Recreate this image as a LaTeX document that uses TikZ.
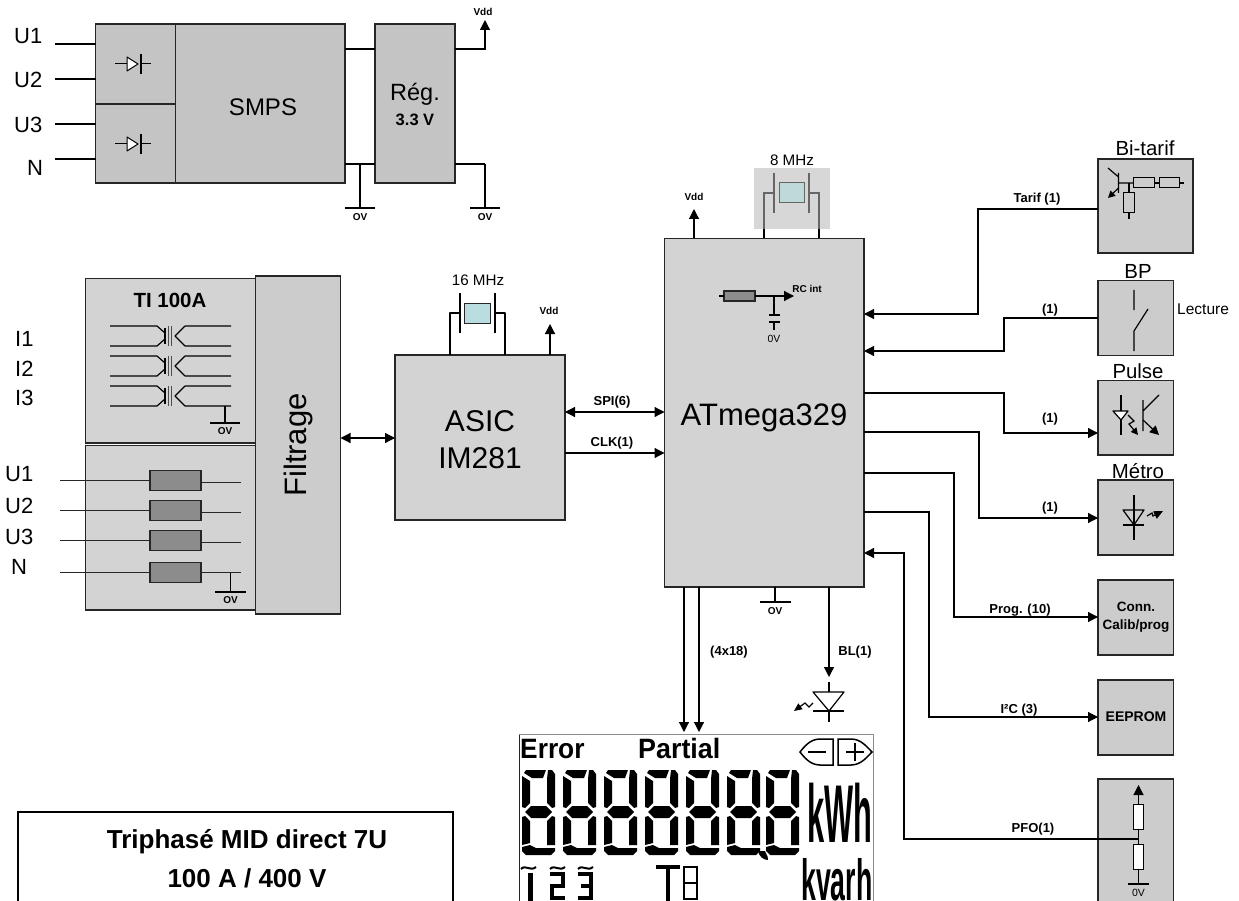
\documentclass[tikz,border=0pt]{standalone}
\usepackage{fontspec}
\usepackage{graphicx}
\setmainfont{Liberation Sans}
\usetikzlibrary{arrows.meta}
\definecolor{gA}{HTML}{C4C4C4}
\definecolor{gB}{HTML}{D3D3D3}
\definecolor{gC}{HTML}{CCCCCC}
\definecolor{gR}{HTML}{8C8C8C}
\definecolor{xA}{HTML}{B9DDE0}
\definecolor{xB}{HTML}{BFD8D8}
\tikzset{
  fs/.style={font=\fontsize{#1}{#1}\selectfont,inner sep=0pt},
  fsb/.style={font=\fontsize{#1}{#1}\selectfont\bfseries,inner sep=0pt},
  box/.style={draw=black!85,line width=1.2pt,inner sep=0pt,outer sep=0pt,align=center},
  wire/.style={line width=1.2pt,draw=black},
  thinw/.style={line width=1pt,draw=black!85},
  arr/.style={wire,-{Triangle[length=10pt,width=10pt]}},
  darr/.style={wire,{Triangle[length=10pt,width=10pt]}-{Triangle[length=10pt,width=10pt]}},
  sym/.style={line width=1.2pt,draw=black,line join=round},
  smallhead/.style={line width=1.2pt,draw=black,-{Triangle[length=7pt,width=7pt]}},
  seg/.style={fill=black,draw=none},
  lcdl/.style={line width=4pt,draw=black,line cap=butt,line join=miter},
  tilde/.style={line width=2pt,draw=black}
}
\newcommand{\bx}[6][]{\node[box,#1,minimum width={(#4-#2)*1pt},minimum height={(#5-#3)*1pt}] (#6) at ({(#2+#4)/2},{(#3+#5)/2}) {};}
% ground: name, x, ytop, ybar, half width, label y
\newcommand{\gnd}[6]{\coordinate (#1t) at (#2,#3);\coordinate (#1b) at (#2,#4);
  \draw[wire] (#1t) -- (#1b);
  \draw[wire] (#2-#5,#4) -- (#2+#5,#4);
  \node[fsb=10] (#1l) at (#2,#6) {OV};}
% diode rectifier symbol
\newcommand{\rect}[3]{\coordinate (#1) at (#2,#3);
  \draw[sym,line width=1pt] (#2-18,#3) -- (#2-6,#3);
  \draw[sym,line width=1pt,fill=white] (#2-6,#3-7) -- (#2+5,#3) -- (#2-6,#3+7) -- cycle;
  \draw[sym,line width=1.2pt] (#2+8,#3-10) -- (#2+8,#3+10);
  \draw[sym,line width=1pt] (#2+8,#3) -- (#2+18,#3);}
% one transformer row, y of upper line
\newcommand{\trafo}[1]{
  \draw[sym] (110,#1) -- (157,#1) -- (165,#1+7) (165,#1+13) -- (157,#1+20) -- (110,#1+20);
  \draw[sym] (165,#1+2) -- (165,#1+18);
  \draw[line width=.8pt,draw=black!70] (168,#1) -- (168,#1+20) (171,#1) -- (171,#1+20);
  \draw[sym] (185,#1-0) -- (231,#1) (185,#1) -- (175,#1+10) -- (185,#1+20) -- (231,#1+20);}
% crystal
\newcommand{\xtal}[8]{% x1 wire, x plate l, rect l, rect r, plate r, x2 wire, ycentre, halfrect
}
% LCD digit at x,y
\newcommand{\digit}[2]{\begin{scope}[shift={(#1,#2)}]
  \fill[seg] (4,0) -- (24,0) -- (21,8) -- (10,8) -- (2,3) -- cycle;
  \fill[seg] (0,6) -- (8,11) -- (8,33) -- (3,38) -- (0,37) -- cycle;
  \fill[seg] (26,0) -- (30,0) -- (33,4) -- (33,37) -- (30,38) -- (25,33) -- (25,9) -- cycle;
  \fill[seg] (3,42) -- (9,36) -- (24,36) -- (30,42) -- (24,48) -- (9,48) -- cycle;
  \fill[seg] (0,47) -- (3,46) -- (8,51) -- (8,73) -- (0,75) -- cycle;
  \fill[seg] (33,47) -- (30,46) -- (25,51) -- (25,75) -- (33,75) -- cycle;
  \fill[seg] (0,77) -- (8,75) -- (14,78) -- (33,78) -- (33,81) -- (29,85) -- (4,85) -- (0,81) -- cycle;
\end{scope}}
\newcommand{\tld}[2]{\draw[tilde] (#1,#2+2) .. controls (#1+5,#2-3) and (#1+9,#2+5) .. (#1+15,#2);}
\begin{document}
\begin{tikzpicture}[x=1pt,y=-1pt]
\useasboundingbox[fill=white] (0,0) rectangle (1239,901);

% ---------- supply group
\bx[fill=gA]{95.5}{24}{175.5}{104}{dA}
\bx[fill=gA]{95.5}{104}{175.5}{183}{dB}
\bx[fill=gA]{175.5}{24}{345}{183}{smps}
\bx[fill=gA]{375}{24}{455}{183}{reg}
\node[fs=24] (smpsl) at (263,107) {SMPS};
\node[fs=23.5] (regl) at (415,94) {Rég.};
\node[fsb=16.5] (regv) at (415,120) {3.3 V};
\rect{rA}{133}{64}
\rect{rB}{133}{144}
\node[fs=22,anchor=base west] (su1) at (14,44) {U1};
\node[fs=22,anchor=base west] (su2) at (14,88) {U2};
\node[fs=22,anchor=base west] (su3) at (14,133) {U3};
\node[fs=22,anchor=base west] (sn) at (27,176) {N};
\coordinate (wu1) at (55,44);\coordinate (wu2) at (55,79);\coordinate (wu3) at (55,124);\coordinate (wn) at (55,159);
\draw[wire] (wu1) -- (dA.west |- wu1);
\draw[wire] (wu2) -- (dA.west |- wu2);
\draw[wire] (wu3) -- (dB.west |- wu3);
\draw[wire] (wn) -- (dB.west |- wn);
\draw[wire] (smps.east |- 0,49) -- (reg.west |- 0,49);
\draw[wire] (smps.east |- 0,164) -- (reg.west |- 0,164);
\gnd{g1}{360}{164}{208}{15}{217}
\coordinate (vdd1) at (485,20);
\draw[arr] (reg.east |- 0,49) -- (485,49) -- (vdd1);
\node[fsb=10] (vdd1l) at (483,12) {Vdd};
\draw[wire] (reg.east |- 0,164) -- (485,164);
\gnd{g2}{485}{164}{208}{15}{217}

% ---------- measure group
\bx[fill=gB]{85.5}{278.5}{255.5}{443}{ti}
\bx[fill=gB]{85.5}{445.5}{255.5}{610}{ub}
\bx[fill=gC]{255.5}{276}{340.5}{614}{filt}
\node[fs=31,rotate=90] (filtl) at (298,445) {Filtrage};
\node[fsb=20.5] (til) at (170,300) {TI 100A};
\trafo{326}\trafo{356}\trafo{386}
\gnd{g3}{225}{406}{423}{15}{431}
\node[fs=22,anchor=base west] (i1) at (15,346) {I1};
\node[fs=22,anchor=base west] (i2) at (15,376) {I2};
\node[fs=22,anchor=base west] (i3) at (15,405) {I3};
\node[fs=22,anchor=base west] (mu1) at (5,481) {U1};
\node[fs=22,anchor=base west] (mu2) at (5,513) {U2};
\node[fs=22,anchor=base west] (mu3) at (5,544) {U3};
\node[fs=22,anchor=base west] (mn) at (11,574) {N};
\bx[fill=gR]{150}{470.5}{201}{490.5}{r1}
\bx[fill=gR]{150}{500.5}{201}{520.5}{r2}
\bx[fill=gR]{150}{530.5}{201}{550.5}{r3}
\bx[fill=gR]{150}{562.5}{201}{582.5}{r4}
\coordinate (a1) at (60,480);\coordinate (a2) at (60,510);\coordinate (a3) at (60,540);\coordinate (a4) at (60,572.5);
\coordinate (b1) at (241,482.5);\coordinate (b2) at (241,512.5);\coordinate (b3) at (241,542.5);\coordinate (b4) at (241,572.5);
\draw[thinw] (a1) -- (r1.west |- a1) (r1.east |- b1) -- (b1);
\draw[thinw] (a2) -- (r2.west |- a2) (r2.east |- b2) -- (b2);
\draw[thinw] (a3) -- (r3.west |- a3) (r3.east |- b3) -- (b3);
\draw[thinw] (a4) -- (r4.west |- a4) (r4.east |- b4) -- (b4);
\gnd{g4}{230.5}{572.5}{592}{15.5}{600}

% ---------- ASIC
\bx[fill=gB]{395}{355}{565}{520}{asic}
\node[fs=30] (asicl) at (480,421) {ASIC};
\node[fs=30] (imb) at (480,458) {IM281};
\draw[darr] (filt.east |- 0,438) -- (asic.west |- 0,438);
\node[fs=15.2] (x16) at (478,280) {16 MHz};
\node[box,fill=xA,minimum width=26pt,minimum height=20pt,line width=1pt] (xt16) at (477,313) {};
\draw[sym] (460,293) -- (460,333) (495,293) -- (495,333);
\draw[sym] (asic.north -| 450,0) -- (450,313) -- (460,313);
\draw[sym] (asic.north -| 505,0) -- (505,313) -- (495,313);
\draw[arr] (asic.north -| 550,0) -- (550,324);
\node[fsb=10] (vdd2) at (549,311) {Vdd};

% ---------- ATmega
\bx[fill=gB]{664.5}{238.5}{864}{587}{atm}
\node[fs=31] (atml) at (764,418) {ATmega329};
\draw[darr] (asic.east |- 0,412) -- (atm.west |- 0,412);
\draw[arr] (asic.east |- 0,453) -- (atm.west |- 0,453);
\node[fsb=13] (spi) at (612,402) {SPI(6)};
\node[fsb=13] (clk) at (612,443) {CLK(1)};
\draw[arr] (atm.north -| 694,0) -- (694,209);
\node[fsb=10] (vdd3) at (694,197) {Vdd};
\node[fill=gB!90!white,minimum width=76pt,minimum height=61pt,inner sep=0pt] (xbg) at (792,198.5) {};
\node[fs=15.2] (x8) at (792,160) {8 MHz};
\node[draw=black!60,line width=1pt,fill=xB,minimum width=25pt,minimum height=20pt,inner sep=0pt] (xt8) at (791.5,193) {};
\draw[line width=1.2pt,draw=black!60] (774,173) -- (774,213) (809,173) -- (809,213);
\draw[line width=1.2pt,draw=black!60] (764,229) -- (764,193) -- (774,193) (819,229) -- (819,193) -- (809,193);
\draw[wire] (atm.north -| 764,0) -- (764,229);
\draw[wire] (atm.north -| 819,0) -- (819,229);
% RC int
\bx[fill=gR]{724}{291}{755}{301}{rc}
\coordinate (rcin) at (719,296);\coordinate (rcout) at (794,296);\coordinate (rcj) at (774,296);
\draw[wire] (rcin) -- (rc.west);
\draw[arr] (rc.east) -- (rcout);
\draw[wire] (rcj) -- (774,315) (769,315) -- (780,315) (769,322) -- (780,322) (774,322) -- (774,330);
\node[fs=10.4] (rc0) at (774,339) {0V};
\node[fsb=10] (rcl) at (807,289) {RC int};

% ---------- right boxes
\bx[fill=gC]{1098}{159}{1193}{253}{bi}
\bx[fill=gC]{1098}{280.5}{1173.5}{355.5}{bp}
\bx[fill=gC]{1098}{380.5}{1173.5}{455}{pu}
\bx[fill=gC]{1098}{480}{1173.5}{555}{me}
\bx[fill=gC]{1098}{580}{1173.5}{655}{co}
\bx[fill=gC]{1098}{680}{1173.5}{755}{ee}
\bx[fill=gC]{1098}{779}{1173.5}{905}{po}
\node[fs=20.4] (bil) at (1145,148) {Bi-tarif};
\node[fs=20.4] (bpl) at (1138,271) {BP};
\node[fs=20.4] (pul) at (1138,371) {Pulse};
\node[fs=20.4] (mel) at (1138,471) {Métro};
\node[fs=15.5,anchor=west] (lec) at (1177,309) {Lecture};
\node[fsb=13.5,align=center] (col) at (1136,617) {Conn.\\[5pt]Calib/prog};
\node[fsb=14] (eel) at (1136,717) {EEPROM};
% wires right
\draw[arr] (bi.west |- 0,209) -- (978,209) -- (978,314) -- (atm.east |- 0,314);
\node[fsb=13] (l1) at (1037,199) {Tarif (1)};
\draw[arr] (bp.west |- 0,318) -- (1004,318) -- (1004,351) -- (atm.east |- 0,351);
\node[fsb=13] (l2) at (1050,310) {(1)};
\draw[arr] (atm.east |- 0,393) -- (1004,393) -- (1004,433) -- (pu.west |- 0,433);
\node[fsb=13] (l3) at (1050,419) {(1)};
\draw[arr] (atm.east |- 0,432) -- (979,432) -- (979,518) -- (me.west |- 0,518);
\node[fsb=13] (l4) at (1050,508) {(1)};
\draw[arr] (atm.east |- 0,473) -- (954,473) -- (954,617) -- (co.west |- 0,617);
\node[fsb=13] (l5) at (1020,610) {Prog. (10)};
\draw[arr] (atm.east |- 0,512) -- (929,512) -- (929,717) -- (ee.west |- 0,717);
\node[fsb=13] (l6) at (1019,710) {I²C (3)};
\coordinate (pj) at (1138.5,839);
\draw[arr] (pj) -- (904,839) -- (904,553) -- (atm.east |- 0,553);
\node[fsb=13] (l7) at (1033,829) {PFO(1)};
% Bi-tarif symbol
\draw[sym] (1118.5,173) -- (1118.5,193) (1108,168) -- (1118.5,177) (1118.5,183) -- (1133,183);
\draw[smallhead] (1118.5,188) -- (1108,198);
\node[draw=black,line width=1pt,minimum width=21pt,minimum height=10pt,inner sep=0pt,fill=gC] (bt1) at (1143.5,183) {};
\node[draw=black,line width=1pt,minimum width=20pt,minimum height=10pt,inner sep=0pt,fill=gC] (bt2) at (1169,183) {};
\node[draw=black,line width=1pt,minimum width=10.5pt,minimum height=20pt,inner sep=0pt,fill=gC] (bt3) at (1129,203) {};
\draw[sym] (bt1.east) -- (bt2.west) (bt2.east) -- (1184,183) (1129,183) -- (bt3.north) (bt3.south) -- (1129,219);
% BP
\draw[sym] (1134,290) -- (1134,310) (1148,309) -- (1134,331) -- (1134,351);
% Pulse symbol
\draw[sym] (1121,395) -- (1121,435);
\draw[sym,fill=white] (1113,411) -- (1128,411) -- (1121,420) -- cycle;
\draw[smallhead] (1128,415) -- (1134,421) -- (1129,424) -- (1138,435);
\draw[sym] (1143,400) -- (1143,431) (1159,395) -- (1143,411);
\draw[smallhead,-{Triangle[length=9pt,width=9pt]}] (1143,420) -- (1159,435);
% Métro symbol
\draw[sym] (1134,495) -- (1134,540) (1123,525) -- (1144,525);
\draw[sym] (1123,510) -- (1144,510) -- (1134,525) -- cycle;
\draw[smallhead,-{Triangle[length=9pt,width=8pt]}] (1147,516) -- (1152,513) -- (1153,516) -- (1163,511);
% potentiometer
\node[draw=black,line width=1pt,fill=white,minimum width=10pt,minimum height=25pt,inner sep=0pt] (pt1) at (1138.5,816.5) {};
\node[draw=black,line width=1pt,fill=white,minimum width=10pt,minimum height=25pt,inner sep=0pt] (pt2) at (1138.5,856.5) {};
\draw[arr] (pt1.north) -- (1138.5,785);
\draw[wire] (pt1.south) -- (pt2.north);
\draw[wire] (pt2.south) -- (1138.5,884) (1128,884) -- (1149,884);
\node[fs=10.5] (pt0) at (1138.5,893) {0V};

% ---------- bottom
\node[fill=white,minimum width=354pt,minimum height=170pt,inner sep=0pt] (lcd) at (696,819) {};
\draw[line width=.8pt,draw=black!45] (873,901) -- (873,734.5) -- (519,734.5);
\draw[line width=1pt,draw=black!85] (519.5,734.5) -- (519.5,901);
\draw[arr] (atm.south -| 684,0) -- (684,732);
\draw[arr] (atm.south -| 699,0) -- (699,732);
\node[fsb=13] (l8) at (729,652) {(4x18)};
\gnd{g5}{775}{587}{602}{15.5}{611}
\draw[arr] (atm.south -| 829,0) -- (829,677);
\node[fsb=13] (l9) at (855,652) {BL(1)};
\draw[sym] (829,682) -- (829,692);
\draw[sym] (813,692) -- (844,692) -- (829,711) -- cycle;
\draw[sym] (813,711) -- (844,711) (829,711) -- (829,722);
\draw[smallhead,-{Triangle[length=8pt,width=7pt]}] (813,703) -- (809,707) -- (805,703) -- (794,711);

% LCD contents
\node[fsb=28,anchor=base west] (lerr) at (520,758) {\scalebox{.94}[1]{Error}};
\node[fsb=28,anchor=base west] (lpar) at (638,758) {\scalebox{.96}[1]{Partial}};
\digit{522}{770}\digit{563}{770}\digit{604}{770}\digit{645}{770}\digit{686}{770}\digit{727}{770}\digit{766}{770}
\fill[seg] (758,851) -- (765,851) .. controls (767,856) and (769,858) .. (768,860) .. controls (763,860) and (759,856) .. (758,851) -- cycle;
\node[fsb=82,anchor=base west] (kwh) at (807,842) {\scalebox{.375}[1]{kWh}};
\node[fsb=58,anchor=base west] (kvarh) at (801,900) {\scalebox{.46}[1]{kvarh}};
% sign symbols
\draw[line width=1.5pt] (833,739) -- (833,765) -- (820,765) .. controls (810,765) and (804,757) .. (800,752) .. controls (804,747) and (810,739) .. (820,739) -- cycle;
\draw[line width=1.5pt] (838,739) -- (838,765) -- (851,765) .. controls (861,765) and (867,757) .. (872,752) .. controls (867,747) and (861,739) .. (851,739) -- cycle;
\draw[line width=2pt] (808,752) -- (826,752) (846,752) -- (864,752) (855,743) -- (855,761);
% lower digits
\tld{521}{867}\tld{550}{867}\tld{578}{867}
\draw[lcdl,line width=4.5pt] (530.5,873) -- (530.5,901);
\draw[lcdl] (550,874) -- (563,874) -- (563,886) -- (552,886) -- (552,898) -- (565,898);
\draw[lcdl] (578,874) -- (591,874) -- (591,898) -- (578,898) (581,886) -- (591,886);
\draw[lcdl] (656,867) -- (680,867) (668,867) -- (668,901);
\draw[lcdl,line width=2.5pt] (684,867) rectangle (697,899) (684,883) -- (697,883);
\draw[lcdl,line width=1.5pt,draw=white] (690.5,871) -- (690.5,880);

% ---------- title box
\node[box,draw=black,line width=1.2pt,fill=white,minimum width=435pt,minimum height=95pt] (tb) at (235.5,859.5) {};
\node[fsb=26] (t1) at (247,842) {Triphasé MID direct 7U};
\node[fsb=26] (t2) at (247,878) {100 A / 400 V};
\end{tikzpicture}
\end{document}
